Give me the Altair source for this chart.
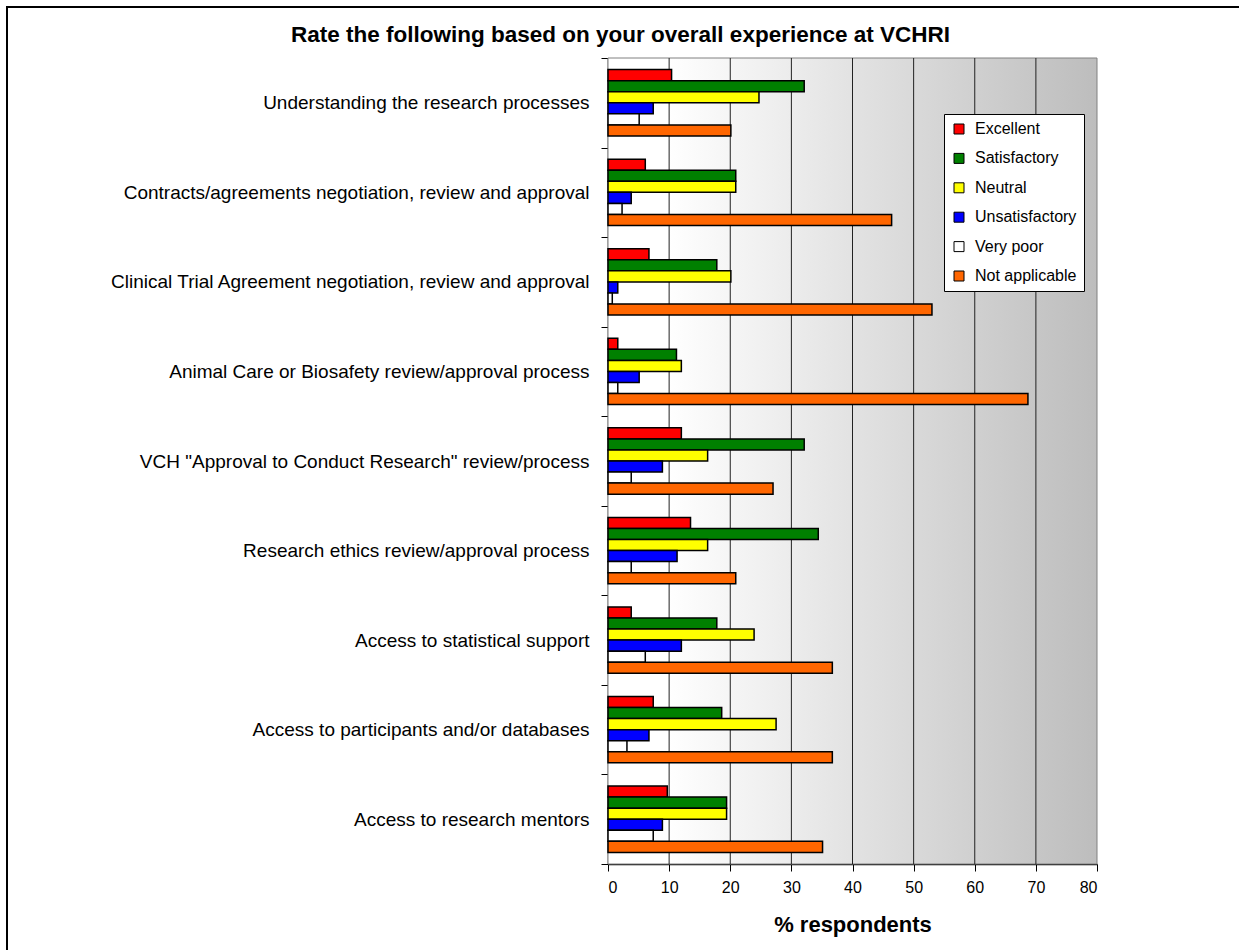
import altair as alt
import pandas as pd

categories = [
    "Understanding the research processes",
    "Contracts/agreements negotiation, review and approval",
    "Clinical Trial Agreement negotiation, review and approval",
    "Animal Care or Biosafety review/approval process",
    'VCH "Approval to Conduct Research" review/process',
    "Research ethics review/approval process",
    "Access to statistical support",
    "Access to participants and/or databases",
    "Access to research mentors",
]
series = ["Excellent", "Satisfactory", "Neutral", "Unsatisfactory", "Very poor", "Not applicable"]
colors = ["#FF0000", "#008000", "#FFFF00", "#0000FF", "#FFFFFF", "#FF6600"]

excellent = [10.4, 6.1, 6.7, 1.6, 12.0, 13.5, 3.8, 7.4, 9.7]
satisfactory = [32.1, 20.9, 17.8, 11.2, 32.1, 34.4, 17.8, 18.6, 19.4]
neutral = [24.7, 20.9, 20.1, 12.0, 16.3, 16.3, 23.9, 27.5, 19.4]
unsatisfactory = [7.4, 3.8, 1.6, 5.1, 8.9, 11.3, 12.0, 6.7, 8.9]
very_poor = [5.1, 2.3, 0.7, 1.6, 3.8, 3.8, 6.1, 3.1, 7.4]
not_applicable = [20.1, 46.4, 53.0, 68.7, 27.0, 20.9, 36.7, 36.7, 35.1]

x_ticks = [0, 10, 20, 30, 40, 50, 60, 70, 80]
grid_values = [10, 20, 30, 40, 50, 60, 70]

values = [excellent, satisfactory, neutral, unsatisfactory, very_poor, not_applicable]
rows = []
for s, vals in zip(series, values):
    for c, v in zip(categories, vals):
        rows.append({"category": c, "series": s, "value": v})
df = pd.DataFrame(rows)

FONT = "Liberation Sans"
xscale = alt.Scale(domain=[0, 80], nice=False, zero=True)

bg = alt.Chart(pd.DataFrame({"x0": [0], "x1": [80]})).mark_rect(
    fill={
        "gradient": "linear",
        "x1": 0, "y1": 0, "x2": 1, "y2": 0,
        "stops": [
            {"offset": 0, "color": "#ffffff"},
            {"offset": 0.12, "color": "#ffffff"},
            {"offset": 1, "color": "#bdbdbd"},
        ],
    },
    stroke="#808080",
    strokeWidth=1,
).encode(
    x=alt.X("x0:Q", scale=xscale),
    x2="x1:Q",
)

grid = alt.Chart(pd.DataFrame({"g": grid_values})).mark_rule(
    color="#222222", strokeWidth=1
).encode(x=alt.X("g:Q", scale=xscale))

offset_domain = ["_pad_top"] + series + ["_pad_bottom"]

bars = alt.Chart(df).mark_bar(stroke="#000000", strokeWidth=1.5).encode(
    y=alt.Y(
        "category:N",
        sort=categories,
        scale=alt.Scale(paddingInner=0, paddingOuter=0),
        axis=alt.Axis(
            title=None,
            tickBand="extent",
            labelLimit=700,
            labelFontSize=19,
            labelFont=FONT,
            labelColor="#000000",
            labelPadding=12,
            tickSize=7,
            tickColor="#000000",
            domainColor="#000000",
            domainWidth=1.5,
            grid=False,
        ),
    ),
    yOffset=alt.YOffset(
        "series:N",
        scale=alt.Scale(domain=offset_domain, paddingInner=0, paddingOuter=0.05),
    ),
    x=alt.X(
        "value:Q",
        scale=xscale,
        axis=alt.Axis(
            title="% respondents",
            values=x_ticks,
            grid=False,
            labelFontSize=16,
            labelFont=FONT,
            labelColor="#000000",
            labelPadding=8,
            tickSize=7,
            tickColor="#000000",
            domainColor="#000000",
            domainWidth=1.5,
            titleFont=FONT,
            titleFontSize=22,
            titleFontWeight="bold",
            titleColor="#000000",
            titlePadding=19,
        ),
    ),
    color=alt.Color(
        "series:N",
        sort=series,
        scale=alt.Scale(domain=series, range=colors),
        title=None,
        legend=alt.Legend(
            orient="none",
            legendX=336,
            legendY=56,
            fillColor="#ffffff",
            strokeColor="#000000",
            padding=7,
            symbolType="square",
            symbolSize=100,
            symbolStrokeColor="#000000",
            symbolStrokeWidth=1,
            labelFont=FONT,
            labelFontSize=16,
            labelColor="#000000",
            rowPadding=13.4,
            labelOffset=8,
        ),
    ),
)

border = alt.Chart(pd.DataFrame({"a": [0]})).mark_rect(
    filled=False, stroke="#000000", strokeWidth=2
).encode(
    x=alt.value(-601), x2=alt.value(700), y=alt.value(-51), y2=alt.value(1000)
)

chart = alt.layer(bg, grid, bars, border).properties(
    width=489,
    height=806,
    padding={"left": 608, "top": 58, "right": 142, "bottom": 86},
    autosize=alt.AutoSizeParams(type="none"),
    title=alt.TitleParams(
        text="Rate the following based on your overall experience at VCHRI",
        font=FONT,
        fontSize=22.5,
        fontWeight="bold",
        color="#000000",
        anchor="middle",
        frame="group",
        dx=-232,
        offset=-40,
    ),
).configure_view(stroke=None)

chart.save("out.html", embed_options={"renderer": "svg", "actions": False})
